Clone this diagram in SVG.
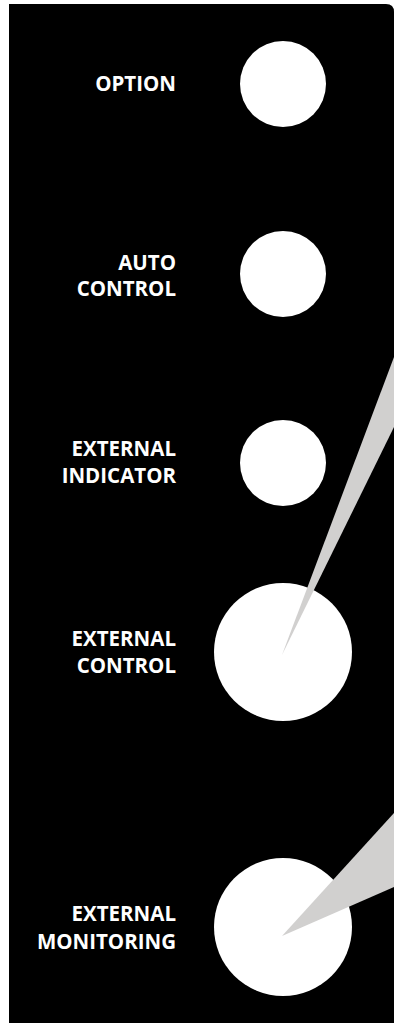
<svg xmlns="http://www.w3.org/2000/svg" width="394" height="1023" viewBox="0 0 394 1023">
<style>
.lbl{font-family:"Open Sans","Liberation Sans",sans-serif;font-weight:700;font-size:20.5px;fill:#fff;text-anchor:end}
.led{fill:#fff}
.beam{fill:#d1d0cf}
</style>
<rect x="0" y="0" width="394" height="1023" fill="#fff"/>
<path id="panel" d="M9 4 H386 Q394 4 394 12 V1023 H9 Z" fill="#000"/>
<g id="option"><circle class="led" cx="283" cy="84" r="43"/><text class="lbl" x="176" y="91">OPTION</text></g>
<g id="auto-control"><circle class="led" cx="283" cy="274" r="43"/><text class="lbl" x="176" y="270">AUTO</text><text class="lbl" x="176" y="296">CONTROL</text></g>
<g id="external-indicator"><circle class="led" cx="283" cy="463" r="43"/><text class="lbl" x="176" y="456">EXTERNAL</text><text class="lbl" x="176" y="483">INDICATOR</text></g>
<g id="external-control"><circle class="led" cx="283" cy="652" r="69"/><text class="lbl" x="176" y="646">EXTERNAL</text><text class="lbl" x="176" y="673">CONTROL</text></g>
<g id="external-monitoring"><circle class="led" cx="283" cy="927" r="69"/><text class="lbl" x="176" y="921">EXTERNAL</text><text class="lbl" x="176" y="949">MONITORING</text></g>
<g id="connectors">
<polygon class="beam" points="282,655 394,357 394,427"/>
<polygon class="beam" points="282,936 394,813 394,887"/>
</g>
</svg>
